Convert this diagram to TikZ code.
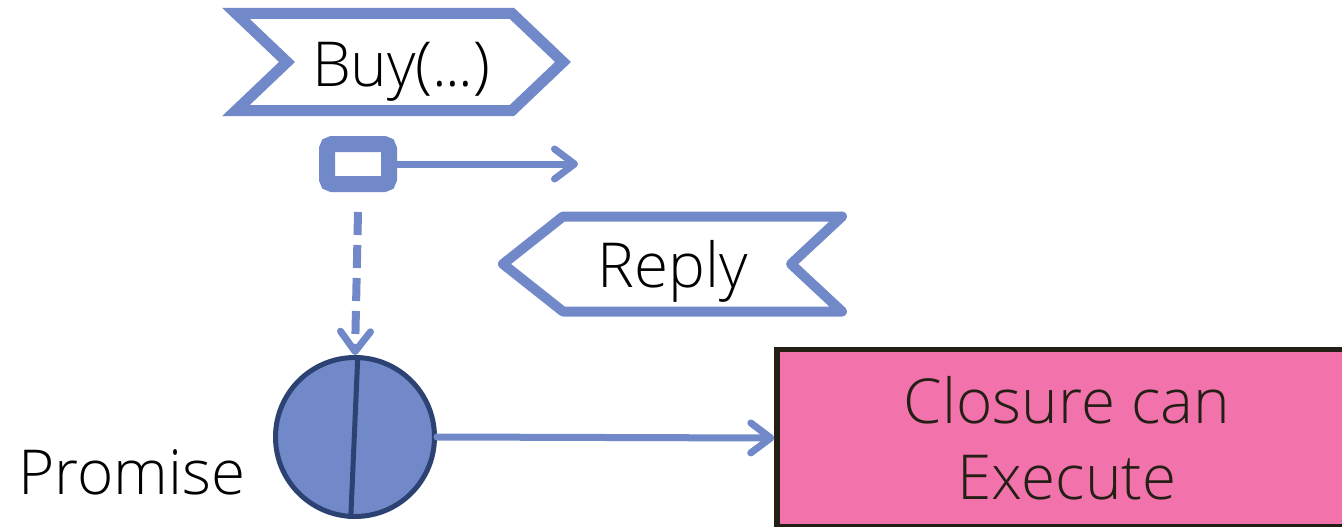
\documentclass[tikz,border=0pt]{standalone}
\usepackage{fontspec}
\setmainfont{Open Sans}[UprightFont=* Light]
\usetikzlibrary{arrows.meta}
\definecolor{flowblue}{HTML}{7189C8}
\definecolor{promiseedge}{HTML}{2C4272}
\definecolor{closurepink}{HTML}{F272AC}
\definecolor{closureedge}{HTML}{231F14}

\begin{document}
\begin{tikzpicture}[x=1pt,y=-1pt,
  lbl/.style={font=\fontsize{62}{74}\selectfont, inner sep=0pt, text=black},
  barb/.style={-{Straight Barb[length=20pt,width=30pt,line width=7pt,round]}},
  msgout/.style={draw=flowblue, line width=11pt, miter limit=10},
  msgin/.style={draw=flowblue, line width=10pt, line join=round, line cap=round},
  flow/.style={draw=flowblue, line width=7pt, line cap=round, barb},
  waitflow/.style={draw=flowblue, line width=8pt, dash pattern=on 23pt off 10pt, barb},
  handle/.style={draw=flowblue, fill=white, line width=16pt, rounded corners=5pt,
    minimum width=62pt, minimum height=40pt, inner sep=0pt},
  promise/.style={circle, draw=promiseedge, fill=flowblue, line width=5pt,
    minimum size=159pt, inner sep=0pt},
  closure/.style={draw=closureedge, fill=closurepink, line width=5.5pt,
    minimum width=580pt, minimum height=177pt, align=center, inner sep=0pt,
    text=closureedge, font=\fontsize{62}{76}\selectfont}
]
\useasboundingbox (0,0) rectangle (1342,527);
\clip (0,0) rectangle (1342,527);

% outgoing call message
\draw[msgout] (236,13.5) -- (512,13.5) -- (563,62) -- (512,110.5) -- (236,110.5)
  -- (287,62) -- cycle;
\node[lbl, anchor=base] (buy) at (401,86) {Buy(.\kern-2pt.\kern-2pt.)};

% returning reply message
\draw[msgin] (563,216.5) -- (503,264) -- (563,311.5) -- (842,311.5) -- (791,264)
  -- (842,216.5) -- cycle;
\node[lbl, anchor=base] (reply) at (673,287) {Reply};

% call handle and its outgoing send
\node[handle] (sbox) at (358,164) {};
\coordinate (sendend) at (578,164);
\draw[flow] (sbox.east) -- (sendend);

% promise
\node[promise] (circ) at (355,437) {};
\draw[promiseedge, line width=5pt] (circ.88) -- (circ.267);
\node[lbl, anchor=base west] (plabel) at (18,494) {Promise};

% pending resolution of the promise
\draw[waitflow] ([yshift=-20pt]sbox.south) -- (circ.north);

% closure box and continuation
\node[closure] (clos) at (1067,438) {Closure can\\Execute};
\draw[flow] (circ.east) -- (clos.west);
\end{tikzpicture}
\end{document}
